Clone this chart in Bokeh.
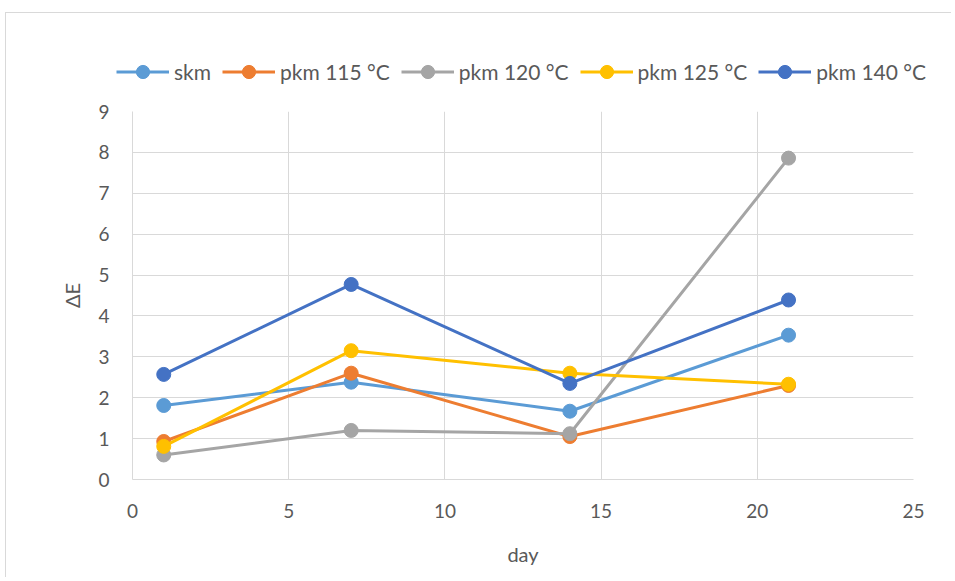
from bokeh.plotting import figure
from bokeh.models import Range1d, FixedTicker, Legend, LegendItem
from bokeh.layouts import column
from bokeh.embed import file_html
from bokeh.resources import INLINE

days = [1, 7, 14, 21]
skm = [1.81, 2.38, 1.67, 3.53]
pkm115 = [0.93, 2.60, 1.05, 2.30]
pkm120 = [0.60, 1.20, 1.12, 7.86]
pkm125 = [0.81, 3.15, 2.60, 2.33]
pkm140 = [2.57, 4.77, 2.35, 4.39]
labels = ["skm", "pkm 115 °C", "pkm 120 °C", "pkm 125 °C", "pkm 140 °C"]
series = [skm, pkm115, pkm120, pkm125, pkm140]
colors = ["#5B9BD5", "#ED7D31", "#A5A5A5", "#FFC000", "#4472C4"]
x_ticks = [0, 5, 10, 15, 20, 25]
y_ticks = list(range(0, 10))

FONT = "Lato"
TXT = "#595959"

# legend strip
lf = figure(width=945, height=88, output_backend="svg", toolbar_location=None,
            x_axis_type=None, y_axis_type=None, x_range=Range1d(0, 25), y_range=Range1d(0, 9),
            min_border=0)
lf.frame_align = False
lf.outline_line_color = None
lf.xgrid.visible = False
lf.ygrid.visible = False

# main chart
p = figure(width=945, height=476, output_backend="svg", toolbar_location=None,
           x_range=Range1d(0, 25), y_range=Range1d(0, 9),
           min_border_left=126, min_border_right=38, min_border_top=10, min_border_bottom=98)
p.outline_line_color = None

p.xaxis.ticker = FixedTicker(ticks=x_ticks)
p.yaxis.ticker = FixedTicker(ticks=y_ticks)
for ax in (p.xaxis[0], p.yaxis[0]):
    ax.axis_line_color = "#d9d9d9"
    ax.major_tick_line_color = None
    ax.minor_tick_line_color = None
    ax.major_label_text_font = FONT
    ax.major_label_text_font_size = "19px"
    ax.major_label_text_color = TXT
    ax.axis_label_text_font = FONT
    ax.axis_label_text_font_size = "20px"
    ax.axis_label_text_font_style = "normal"
    ax.axis_label_text_color = TXT
p.xaxis.axis_label = "day"
p.yaxis.axis_label = "ΔE"
p.xaxis.major_label_standoff = 18
p.yaxis.major_label_standoff = 17
p.xaxis.axis_label_standoff = 21
p.yaxis.axis_label_standoff = 11
p.xgrid.grid_line_color = "#d9d9d9"
p.ygrid.grid_line_color = "#d9d9d9"

items = []
for lab, ys, c in zip(labels, series, colors):
    p.line(days, ys, line_color=c, line_width=3)
    p.scatter(days, ys, size=14, fill_color=c, line_color=c)
    r1 = lf.line(days, ys, line_color=c, line_width=3, visible=False)
    r2 = lf.scatter(days, ys, size=14, fill_color=c, line_color=c, visible=False)
    items.append(LegendItem(label=lab, renderers=[r1, r2]))

legend = Legend(items=items, orientation="horizontal", location=(110, 13),
                label_text_font=FONT, label_text_font_size="21px", label_text_color=TXT,
                glyph_width=53, glyph_height=33, label_height=33, label_standoff=5, spacing=11,
                padding=0, margin=0, background_fill_alpha=0, border_line_color=None)
lf.add_layout(legend, "center")

layout = column(lf, p, spacing=0)
layout.styles = {"border-left": "1px solid #d9d9d9", "border-top": "1px solid #d9d9d9",
                 "margin-left": "5px", "margin-top": "12px"}

open("out.html", "w").write(file_html(layout, INLINE))
